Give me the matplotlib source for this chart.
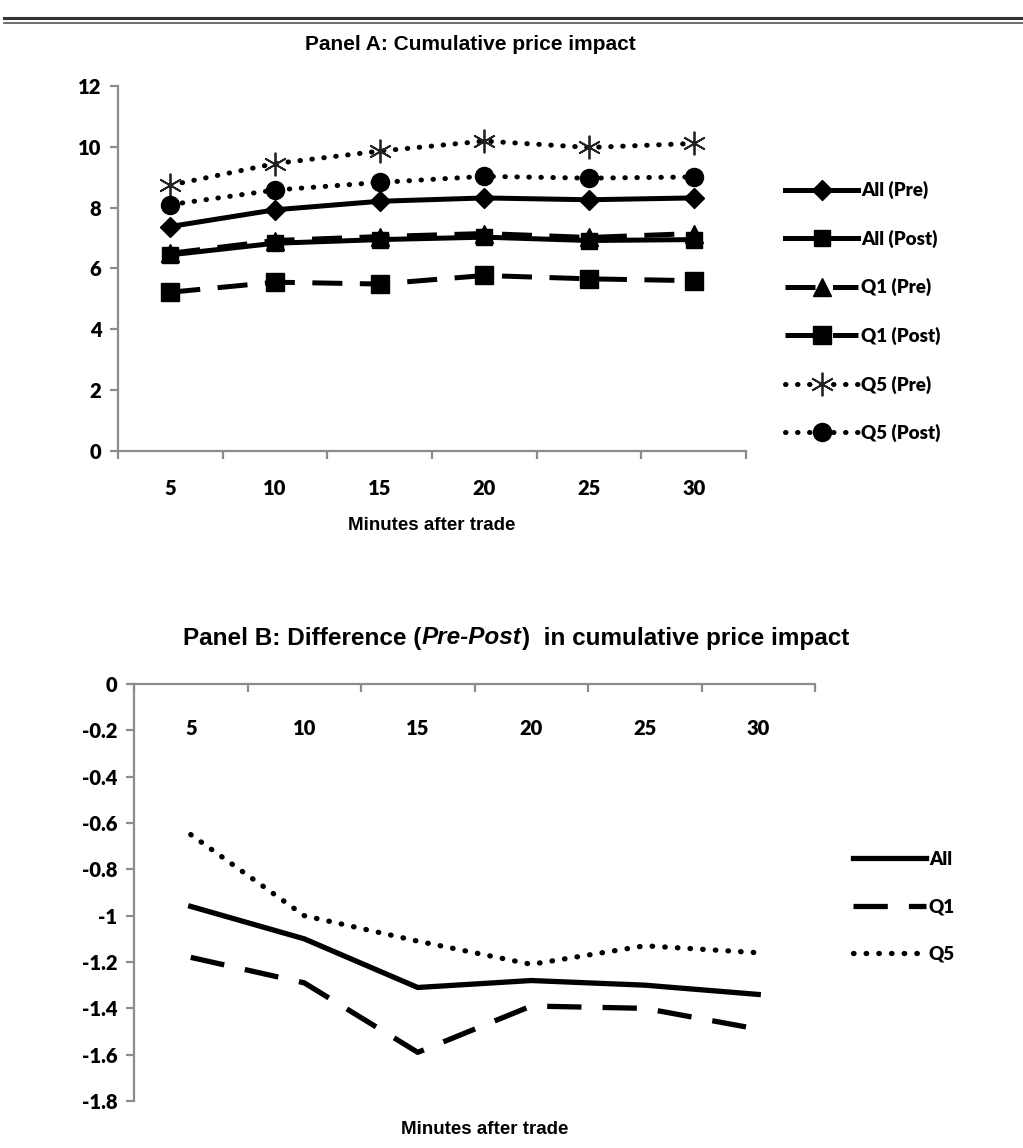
import matplotlib
matplotlib.use("Agg")
import matplotlib.pyplot as plt
from matplotlib.lines import Line2D
import numpy as np

minutes = ["5", "10", "15", "20", "25", "30"]

all_pre = [7.38, 7.93, 8.21, 8.32, 8.26, 8.32]
all_post = [6.45, 6.83, 6.95, 7.03, 6.92, 6.95]
q1_pre = [6.50, 6.92, 7.05, 7.15, 7.02, 7.15]
q1_post = [5.22, 5.55, 5.49, 5.77, 5.66, 5.60]
q5_pre = [8.74, 9.45, 9.86, 10.19, 9.98, 10.11]
q5_post = [8.10, 8.58, 8.83, 9.03, 8.97, 9.01]

diff_all = [-0.96, -1.10, -1.31, -1.28, -1.30, -1.34]
diff_q1 = [-1.18, -1.29, -1.59, -1.39, -1.40, -1.49]
diff_q5 = [-0.65, -1.00, -1.11, -1.21, -1.13, -1.16]

TICKFONT = ["Lato", "DejaVu Sans"]
NARROW = ["Liberation Sans Narrow", "Liberation Sans", "DejaVu Sans"]

W, H = 1023, 1148
fig = plt.figure(figsize=(W / 100, H / 100), dpi=100)
fig.patch.set_facecolor("white")

# top double rule
fig.add_artist(Line2D([0.004, 1.0], [1 - 18 / H, 1 - 18 / H], color="#333333", lw=2.2,
                      transform=fig.transFigure))
fig.add_artist(Line2D([0.004, 1.0], [1 - 23 / H, 1 - 23 / H], color="#555555", lw=1.2,
                      transform=fig.transFigure))

AXC = "#8c8c8c"
x = np.arange(len(minutes))
dotted = (0, (0.1, 2.3))
dashed = (0, (6.0, 3.5))
TW = "heavy"
TS = 14.5

# ---------------- Panel A ----------------
axA = fig.add_axes([118 / W, 1 - 451 / H, (746 - 118) / W, (451 - 86) / H])
lw = 3.6
axA.plot(x, all_pre, color="black", lw=lw, marker="D", ms=10, label="All (Pre)")
axA.plot(x, q1_pre, color="black", lw=lw, ls=dashed, marker="^", ms=13, label="Q1 (Pre)")
axA.plot(x, all_post, color="black", lw=lw, marker="s", ms=12, label="All (Post)")
axA.plot(x, q1_post, color="black", lw=lw, ls=dashed, marker="s", ms=13, label="Q1 (Post)")
axA.plot(x, q5_pre, color="black", lw=lw, ls=dotted, dash_capstyle="round",
         marker=(6, 2, 0), ms=17, mew=1.3, mec="#222222", label="Q5 (Pre)")
axA.plot(x, q5_post, color="black", lw=lw, ls=dotted, dash_capstyle="round",
         marker="o", ms=13, label="Q5 (Post)")

axA.set_xlim(-0.5, len(minutes) - 0.5)
axA.set_ylim(0, 12)
axA.set_yticks(np.arange(0, 13, 2))
axA.set_yticklabels([str(v) for v in range(0, 13, 2)], fontfamily=TICKFONT,
                    fontweight=TW, fontsize=TS)
axA.set_xticks(x)
axA.set_xticklabels(minutes, fontfamily=TICKFONT, fontweight=TW, fontsize=TS)
axA.set_xticks(np.arange(-0.5, len(minutes), 1.0), minor=True)
axA.tick_params(axis="x", which="major", length=0, pad=20)
axA.tick_params(axis="x", which="minor", length=6, width=1.6, color=AXC, direction="out")
axA.tick_params(axis="y", length=6, width=1.6, color=AXC, direction="out", pad=6)
for s in ["top", "right"]:
    axA.spines[s].set_visible(False)
for s in ["left", "bottom"]:
    axA.spines[s].set_color(AXC)
    axA.spines[s].set_linewidth(1.6)
axA.set_xlabel("Minutes after trade", fontfamily=NARROW, fontweight="bold",
               fontsize=13.5, labelpad=14)

hA, lA = axA.get_legend_handles_labels()
order = ["All (Pre)", "All (Post)", "Q1 (Pre)", "Q1 (Post)", "Q5 (Pre)", "Q5 (Post)"]
hA = [hA[lA.index(o)] for o in order]
fig.legend(hA, order, loc="upper left", bbox_to_anchor=(785 / W, 1 - 181 / H),
           frameon=False, handlelength=3.9, handletextpad=0.15, labelspacing=1.62,
           borderpad=0, borderaxespad=0,
           prop={"family": TICKFONT, "weight": TW, "size": 13.5})

fig.text(470 / W, 1 - 45 / H, "Panel A: Cumulative price impact", ha="center",
         va="center", fontfamily=NARROW, fontweight="bold", fontsize=15)

# ---------------- Panel B ----------------
axB = fig.add_axes([134 / W, 1 - 1101 / H, (815 - 134) / W, (1101 - 684) / H])
axB.plot(x, diff_all, color="black", lw=3.8, label="All")
axB.plot(x, diff_q1, color="black", lw=3.8, ls=(0, (6.5, 4.0)), label="Q1")
axB.plot(x, diff_q5, color="black", lw=3.8, ls=dotted, dash_capstyle="round", label="Q5")
axB.set_xlim(-0.5, len(minutes) - 0.5)
axB.set_ylim(-1.8, 0)
yt = np.round(np.arange(-1.8, 0.01, 0.2), 1)
axB.set_yticks(yt)
axB.set_yticklabels(["0" if v == 0 else ("-1" if v == -1 else f"{v:g}") for v in yt],
                    fontfamily=TICKFONT, fontweight=TW, fontsize=TS)
axB.xaxis.set_ticks_position("top")
axB.set_xticks(x)
axB.set_xticklabels(minutes, fontfamily=TICKFONT, fontweight=TW, fontsize=TS)
axB.set_xticks(np.arange(-0.5, len(minutes), 1.0), minor=True)
axB.tick_params(axis="x", which="major", length=0, top=True, labeltop=True,
                bottom=False, labelbottom=False, pad=-39)
axB.tick_params(axis="x", which="minor", top=True, bottom=False, length=6, width=1.6,
                color=AXC, direction="in")
axB.tick_params(axis="y", length=6, width=1.6, color=AXC, direction="out", pad=6)
for s in ["bottom", "right"]:
    axB.spines[s].set_visible(False)
for s in ["left", "top"]:
    axB.spines[s].set_color(AXC)
    axB.spines[s].set_linewidth(1.6)

fig.text(485 / W, 1 - 1129 / H, "Minutes after trade", ha="center", va="center",
         fontfamily=NARROW, fontweight="bold", fontsize=13.5)

hB, lB = axB.get_legend_handles_labels()
fig.legend(hB, lB, loc="upper left", bbox_to_anchor=(853 / W, 1 - 851 / H), frameon=False,
           handlelength=3.9, handletextpad=0.15, labelspacing=1.62, borderpad=0,
           borderaxespad=0, prop={"family": TICKFONT, "weight": TW, "size": 13.5})

# Panel B title with italic segment
pieces = [("Panel B: Difference (", "normal"), ("Pre-Post", "italic"),
          (")  in cumulative price impact", "normal")]
renderer = fig.canvas.get_renderer()
objs = []
for s, st in pieces:
    t = fig.text(0, 1 - 638 / H, s, ha="left", va="center", fontfamily=NARROW,
                 fontweight="bold", fontstyle=st, fontsize=17.5)
    objs.append(t)
widths = [o.get_window_extent(renderer).width for o in objs]
total = sum(widths)
start = 516 - total / 2
for o, w_ in zip(objs, widths):
    o.set_x(start / W)
    start += w_

fig.savefig("out.png", dpi=100, facecolor="white")
